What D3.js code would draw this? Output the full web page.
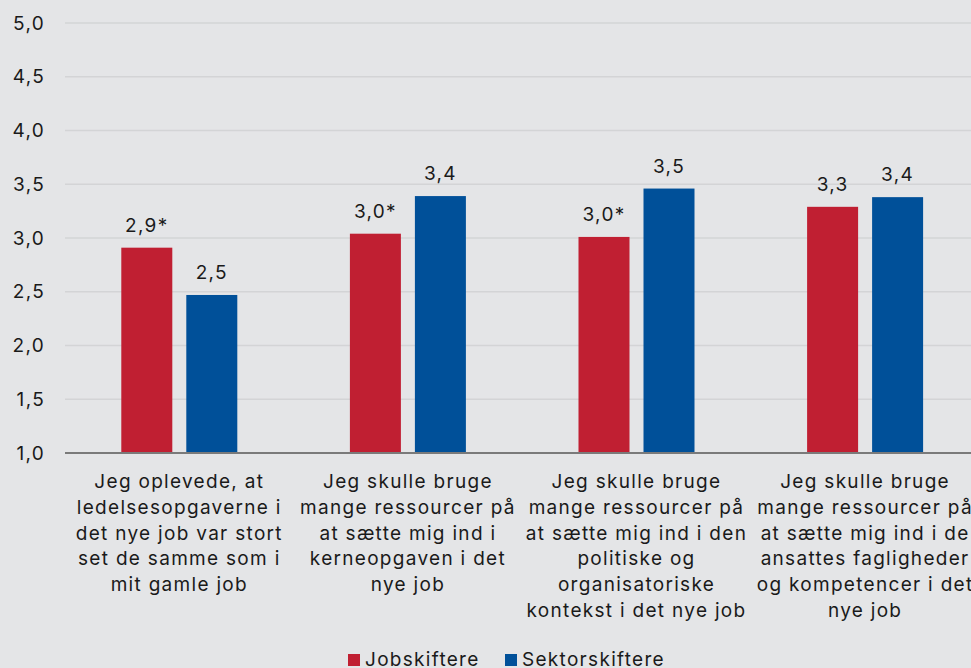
<!DOCTYPE html>
<html>
<head>
<meta charset="utf-8">
<script src="https://cdn.jsdelivr.net/npm/d3@7"></script>
<style>
  html, body { margin: 0; padding: 0; background: #e4e5e7; overflow: hidden; }
  text { font-family: Inter, "Noto Sans", sans-serif; fill: #1a1a1a; font-size: 19px; letter-spacing: 1.3px; }
</style>
</head>
<body>
<div id="chart"></div>
<script>
const categories = [
    ["Jeg oplevede, at", "ledelsesopgaverne i", "det nye job var stort", "set de samme som i", "mit gamle job"],
    ["Jeg skulle bruge", "mange ressourcer på", "at sætte mig ind i", "kerneopgaven i det", "nye job"],
    ["Jeg skulle bruge", "mange ressourcer på", "at sætte mig ind i den", "politiske og", "organisatoriske", "kontekst i det nye job"],
    ["Jeg skulle bruge", "mange ressourcer på", "at sætte mig ind i de", "ansattes fagligheder", "og kompetencer i det", "nye job"]
];
const seriesNames = ["Jobskiftere", "Sektorskiftere"];
const jobskiftere = [2.91, 3.04, 3.01, 3.29];
const sektorskiftere = [2.47, 3.39, 3.46, 3.38];
const jobLabels = ["2,9*", "3,0*", "3,0*", "3,3"];
const sektorLabels = ["2,5", "3,4", "3,5", "3,4"];
const yTicks = [1.0, 1.5, 2.0, 2.5, 3.0, 3.5, 4.0, 4.5, 5.0];
const colors = ["#c01f32", "#005099"];

const W = 971, H = 668;
const margin = {top: 23, left: 65, bottom: 215};
const svg = d3.select("#chart").append("svg")
    .attr("width", W).attr("height", H);

const x = d3.scaleBand()
    .domain(d3.range(categories.length))
    .range([margin.left, margin.left + 4 * 228.6]);

const y = d3.scaleLinear()
    .domain([1, 5])
    .range([H - margin.bottom, margin.top]);

// gridlines
svg.append("g")
    .selectAll("line")
    .data(yTicks.slice(1))
    .join("line")
    .attr("x1", margin.left).attr("x2", W)
    .attr("y1", d => y(d)).attr("y2", d => y(d))
    .attr("stroke", "#d3d4d6").attr("stroke-width", 1.5);

// y tick labels
svg.append("g")
    .selectAll("text")
    .data(yTicks)
    .join("text")
    .attr("x", 45)
    .attr("y", d => y(d))
    .attr("dy", "0.35em")
    .attr("text-anchor", "end")
    .text(d => d3.format(".1f")(d).replace(".", ","));

const barW = 51, gap = 14;
const series = [
    {values: jobskiftere, labels: jobLabels, offset: -(gap / 2 + barW)},
    {values: sektorskiftere, labels: sektorLabels, offset: gap / 2}
];

series.forEach((s, si) => {
    const g = svg.append("g");
    g.selectAll("rect")
        .data(s.values)
        .join("rect")
        .attr("x", (d, i) => x(i) + x.bandwidth() / 2 + s.offset)
        .attr("y", d => y(d))
        .attr("width", barW)
        .attr("height", d => y(1) - y(d))
        .attr("fill", colors[si]);
    g.selectAll("text")
        .data(s.values)
        .join("text")
        .attr("x", (d, i) => x(i) + x.bandwidth() / 2 + s.offset + barW / 2)
        .attr("y", d => y(d) - 16)
        .attr("text-anchor", "middle")
        .text((d, i) => s.labels[i]);
});

// x axis line
svg.append("line")
    .attr("x1", margin.left).attr("x2", W)
    .attr("y1", y(1)).attr("y2", y(1))
    .attr("stroke", "#7a7a7a").attr("stroke-width", 2);

// category labels
const catG = svg.append("g");
categories.forEach((lines, i) => {
    const t = catG.append("text")
        .attr("text-anchor", "middle");
    t.selectAll("tspan")
        .data(lines)
        .join("tspan")
        .attr("x", x(i) + x.bandwidth() / 2)
        .attr("y", (d, j) => 488 + j * 25.8)
        .text(d => d);
});

// legend
const legend = svg.append("g");
const legendItems = [{name: seriesNames[0], x: 348}, {name: seriesNames[1], x: 505}];
legendItems.forEach((it, i) => {
    legend.append("rect")
        .attr("x", it.x).attr("y", 654)
        .attr("width", 12).attr("height", 12)
        .attr("fill", colors[i]);
    legend.append("text")
        .attr("x", it.x + 17).attr("y", 666)
        .text(it.name);
});
</script>
</body>
</html>
